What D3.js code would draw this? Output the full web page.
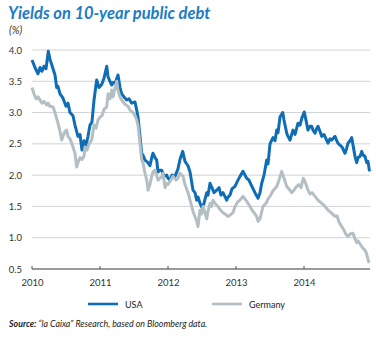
<!DOCTYPE html>
<html><head><meta charset="utf-8">
<script src="https://cdn.jsdelivr.net/npm/d3@7"></script>
<style>
html,body{margin:0;padding:0;background:#fff;}
svg{display:block;}
</style></head>
<body>
<svg id="chart" width="376" height="338"></svg>
<script>
const yTickValues = [0.5, 1.0, 1.5, 2.0, 2.5, 3.0, 3.5, 4.0];
const xTickYears = [2010, 2011, 2012, 2013, 2014];
const seriesNames = ["USA", "Germany"];

const usaYears = [2010.000,2010.044,2010.088,2010.118,2010.147,2010.176,2010.206,2010.240,2010.265,2010.309,2010.338,2010.363,2010.382,2010.412,2010.456,2010.500,2010.529,2010.559,2010.603,2010.632,2010.676,2010.706,2010.735,2010.765,2010.794,2010.824,2010.853,2010.882,2010.912,2010.951,2010.985,
2011.025,2011.059,2011.099,2011.118,2011.147,2011.172,2011.191,2011.221,2011.265,2011.294,2011.319,2011.353,2011.393,2011.426,2011.466,2011.515,2011.540,2011.559,2011.588,2011.613,2011.632,2011.662,2011.706,2011.735,2011.765,2011.779,2011.809,2011.834,2011.853,2011.882,2011.907,2011.941,2011.981,
2012.000,2012.029,2012.059,2012.103,2012.147,2012.176,2012.216,2012.250,2012.294,2012.324,2012.368,2012.397,2012.422,2012.441,2012.471,2012.500,2012.529,2012.569,2012.588,2012.618,2012.647,2012.676,2012.716,2012.750,2012.779,2012.809,2012.863,2012.882,2012.912,2012.941,2012.985,
2013.029,2013.059,2013.103,2013.157,2013.191,2013.221,2013.279,2013.324,2013.353,2013.378,2013.412,2013.451,2013.471,2013.500,2013.544,2013.574,2013.599,2013.618,2013.647,2013.687,2013.706,2013.746,2013.765,2013.794,2013.838,2013.868,2013.912,2013.941,2013.971,
2014.004,2014.029,2014.059,2014.088,2014.113,2014.132,2014.162,2014.184,2014.206,2014.235,2014.260,2014.294,2014.324,2014.353,2014.382,2014.407,2014.456,2014.478,2014.500,2014.529,2014.559,2014.603,2014.625,2014.647,2014.676,2014.701,2014.721,2014.750,2014.775,2014.794,2014.824,2014.849,2014.868,2014.897,2014.922,2014.941,2014.963];
const usaYields = [3.84,3.72,3.62,3.72,3.66,3.74,3.70,3.98,3.85,3.70,3.60,3.40,3.42,3.30,3.23,3.10,3.15,3.00,2.95,2.80,2.62,2.65,2.40,2.55,2.48,2.62,2.80,2.85,3.20,3.52,3.40,
3.45,3.55,3.74,3.57,3.50,3.44,3.48,3.47,3.60,3.40,3.30,3.25,3.20,3.22,3.15,3.17,3.04,2.93,2.62,2.35,2.32,2.24,2.20,2.15,2.30,2.35,2.28,2.24,2.05,2.08,2.08,1.98,2.00,
1.95,1.92,2.00,1.98,2.10,2.25,2.38,2.22,2.15,2.05,1.76,1.72,1.60,1.65,1.55,1.48,1.55,1.72,1.68,1.87,1.80,1.72,1.76,1.80,1.68,1.72,1.60,1.65,1.68,1.78,1.82,
1.92,1.98,2.06,1.95,1.92,1.85,1.72,1.63,1.72,1.87,2.00,2.24,2.18,2.50,2.60,2.55,2.72,2.68,2.93,3.00,2.88,2.67,2.62,2.56,2.72,2.65,2.83,2.80,2.92,
3.01,2.88,2.72,2.78,2.78,2.72,2.67,2.74,2.78,2.70,2.62,2.65,2.58,2.51,2.58,2.56,2.62,2.56,2.51,2.48,2.45,2.35,2.42,2.51,2.55,2.60,2.48,2.30,2.20,2.28,2.30,2.38,2.32,2.30,2.20,2.22,2.06];

const deYears = [2010.000,2010.029,2010.059,2010.088,2010.118,2010.147,2010.176,2010.216,2010.235,2010.265,2010.309,2010.338,2010.382,2010.412,2010.437,2010.456,2010.485,2010.510,2010.529,2010.559,2010.588,2010.632,2010.657,2010.676,2010.706,2010.735,2010.765,2010.779,2010.809,2010.838,2010.878,2010.912,2010.941,2010.971,
2011.000,2011.029,2011.059,2011.099,2011.118,2011.147,2011.172,2011.191,2011.221,2011.246,2011.265,2011.294,2011.319,2011.353,2011.382,2011.412,2011.441,2011.485,2011.515,2011.540,2011.559,2011.588,2011.613,2011.632,2011.662,2011.691,2011.706,2011.735,2011.760,2011.779,2011.809,2011.831,2011.853,2011.882,2011.912,2011.926,2011.956,2011.981,
2012.000,2012.029,2012.074,2012.118,2012.147,2012.176,2012.221,2012.250,2012.294,2012.324,2012.349,2012.368,2012.397,2012.426,2012.441,2012.471,2012.493,2012.515,2012.544,2012.569,2012.588,2012.618,2012.640,2012.662,2012.691,2012.735,2012.765,2012.809,2012.838,2012.882,2012.912,2012.956,2012.985,
2013.029,2013.059,2013.103,2013.157,2013.206,2013.250,2013.304,2013.324,2013.353,2013.397,2013.441,2013.471,2013.500,2013.544,2013.599,2013.632,2013.672,2013.706,2013.746,2013.779,2013.819,2013.853,2013.893,2013.926,2013.956,2013.990,
2014.015,2014.059,2014.088,2014.118,2014.162,2014.206,2014.260,2014.294,2014.324,2014.353,2014.397,2014.456,2014.485,2014.515,2014.554,2014.588,2014.618,2014.647,2014.676,2014.721,2014.750,2014.775,2014.794,2014.824,2014.849,2014.868,2014.897,2014.919,2014.949,2014.963];
const deYields = [3.40,3.30,3.22,3.25,3.20,3.15,3.18,3.12,3.15,3.10,3.09,3.00,2.83,2.70,2.56,2.62,2.70,2.72,2.62,2.58,2.50,2.35,2.13,2.20,2.28,2.25,2.30,2.45,2.40,2.50,2.56,2.80,2.75,2.88,
2.93,2.95,3.05,3.09,3.30,3.22,3.36,3.25,3.40,3.50,3.35,3.25,3.20,3.15,3.12,3.10,3.04,3.00,2.95,2.88,2.80,2.51,2.24,2.20,2.03,1.90,1.76,1.85,1.98,2.05,2.08,2.00,1.92,1.95,1.98,2.03,1.80,1.87,
1.85,1.90,1.98,1.92,1.95,2.03,1.98,1.85,1.72,1.60,1.50,1.42,1.34,1.25,1.18,1.44,1.38,1.50,1.40,1.30,1.42,1.55,1.50,1.60,1.55,1.50,1.45,1.40,1.38,1.34,1.36,1.40,1.50,
1.58,1.60,1.66,1.58,1.50,1.42,1.34,1.26,1.30,1.50,1.55,1.62,1.66,1.75,1.82,1.92,2.06,1.95,1.82,1.78,1.72,1.76,1.82,1.85,1.80,1.95,
1.90,1.76,1.70,1.72,1.66,1.60,1.55,1.52,1.48,1.44,1.40,1.34,1.35,1.25,1.18,1.12,1.05,1.02,1.06,1.07,0.98,0.92,0.95,0.90,0.86,0.83,0.80,0.75,0.62,0.60];

const BLUE = "#0f6db6", GREY = "#b4bfc4", TITLE_BLUE = "#1a7cc4";
const FONT = "Lato, 'Open Sans', sans-serif";
const svg = d3.select("#chart");

const x = d3.scaleLinear().domain([2010, 2015]).range([32, 372]);
const y = d3.scaleLinear().domain([0.5, 4.0]).range([269, 50]);

// title
svg.append("text").attr("x", 8).attr("y", 19)
  .attr("font-family", FONT).attr("font-weight", "bold").attr("font-style", "italic")
  .attr("font-size", 16.5).attr("fill", TITLE_BLUE).text("Yields on 10-year public debt");
svg.append("text").attr("x", 9).attr("y", 34)
  .attr("font-family", FONT).attr("font-style", "italic")
  .attr("font-size", 10.5).attr("fill", "#333").text("(%)");

// grid
svg.append("g").selectAll("line").data(yTickValues.filter(v => v > 0.5)).join("line")
  .attr("x1", 32).attr("x2", 370).attr("y1", d => y(d)).attr("y2", d => y(d))
  .attr("stroke", "#cfd3d5").attr("stroke-width", 1);

// y labels
const yAxis = d3.axisLeft(y).tickValues(yTickValues).tickFormat(d3.format(".1f")).tickSize(0).tickPadding(0);
const gy = svg.append("g").attr("transform", "translate(22,0)").call(yAxis);
gy.select(".domain").remove();
gy.selectAll("text").attr("font-family", FONT).attr("font-size", 9.5).attr("fill", "#333");

// x axis
const xAxis = d3.axisBottom(x).tickValues(xTickYears).tickFormat(d3.format("d")).tickSize(0).tickPadding(10);
const gx = svg.append("g").attr("transform", "translate(0,269)").call(xAxis);
gx.select(".domain").remove();
gx.selectAll("text").attr("font-family", FONT).attr("font-size", 9.5).attr("fill", "#333");
svg.append("line").attr("x1", 32).attr("x2", 370).attr("y1", 269).attr("y2", 269)
  .attr("stroke", "#7a7a7a").attr("stroke-width", 1.5);
svg.append("g").selectAll("line").data(xTickYears).join("line")
  .attr("x1", d => x(d)).attr("x2", d => x(d)).attr("y1", 266).attr("y2", 269)
  .attr("stroke", "#555").attr("stroke-width", 1);

// lines
const line = d3.line().x(d => x(d[0])).y(d => y(d[1]));
const usaData = usaYears.map((t, i) => [t, usaYields[i]]);
const deData = deYears.map((t, i) => [t, deYields[i]]);
svg.append("path").datum(usaData).attr("d", line).attr("fill", "none")
  .attr("stroke", BLUE).attr("stroke-width", 3).attr("stroke-linejoin", "round");
svg.append("path").datum(deData).attr("d", line).attr("fill", "none")
  .attr("stroke", GREY).attr("stroke-width", 3).attr("stroke-linejoin", "round");

// legend
const legend = [{name: seriesNames[0], color: BLUE, x: 88}, {name: seriesNames[1], color: GREY, x: 212}];
const lg = svg.append("g").selectAll("g").data(legend).join("g");
lg.append("line").attr("x1", d => d.x).attr("x2", d => d.x + 30).attr("y1", 304).attr("y2", 304)
  .attr("stroke", d => d.color).attr("stroke-width", 2.6);
lg.append("text").attr("x", d => d.x + 37).attr("y", 307.5)
  .attr("font-family", FONT).attr("font-size", 9).attr("fill", "#222").text(d => d.name);

// source
const src = svg.append("text").attr("x", 9).attr("y", 327)
  .attr("font-family", FONT).attr("font-style", "italic").attr("font-size", 8.8).attr("fill", "#222");
src.append("tspan").attr("font-weight", "bold").text("Source:");
src.append("tspan").text(" “la Caixa” Research, based on Bloomberg data.");
</script>
</body></html>
